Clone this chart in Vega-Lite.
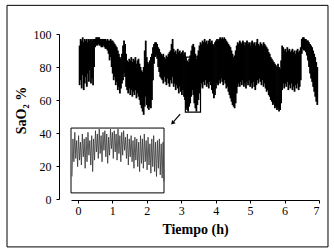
{
"$schema":"https://vega.github.io/schema/vega-lite/v6.json",
"width":248,"height":165,
"padding":{"left":6,"top":4,"right":6,"bottom":4},
"background":"#ffffff",
"config":{"view":{"stroke":null},"axis":{"labelFont":"Liberation Serif","labelFontSize":12,"labelColor":"#000","labelOverlap":false,"titleFont":"Liberation Serif","titleFontSize":14,"titleFontWeight":"bold","titleColor":"#000","domainColor":"#000","tickColor":"#000","grid":false}},
"datasets":{
"band":[
{"t":0.05,"lo":69,"hi":93},{"t":0.08,"lo":72,"hi":97},{"t":0.11,"lo":67,"hi":96},{"t":0.14,"lo":75,"hi":98},{"t":0.17,"lo":66,"hi":95},{"t":0.20,"lo":70,"hi":97},{"t":0.23,"lo":74,"hi":96},{"t":0.26,"lo":68,"hi":97},{"t":0.29,"lo":76,"hi":95},{"t":0.32,"lo":71,"hi":97},{"t":0.35,"lo":78,"hi":96},{"t":0.38,"lo":70,"hi":97},{"t":0.41,"lo":73,"hi":96},{"t":0.44,"lo":69,"hi":97},{"t":0.47,"lo":80,"hi":97},
{"t":0.50,"lo":92,"hi":97},{"t":0.53,"lo":93,"hi":98},{"t":0.56,"lo":93,"hi":98},{"t":0.59,"lo":94,"hi":98},{"t":0.62,"lo":93,"hi":98},{"t":0.65,"lo":93,"hi":97},{"t":0.68,"lo":92,"hi":97},{"t":0.71,"lo":92,"hi":97},{"t":0.74,"lo":93,"hi":97},{"t":0.77,"lo":92,"hi":97},{"t":0.80,"lo":91,"hi":97},{"t":0.83,"lo":91,"hi":96},{"t":0.86,"lo":90,"hi":97},{"t":0.89,"lo":88,"hi":96},{"t":0.92,"lo":84,"hi":96},{"t":0.95,"lo":86,"hi":97},{"t":0.98,"lo":80,"hi":96},
{"t":1.01,"lo":76,"hi":96},{"t":1.04,"lo":72,"hi":95},{"t":1.07,"lo":74,"hi":94},{"t":1.10,"lo":69,"hi":93},{"t":1.13,"lo":71,"hi":92},{"t":1.16,"lo":66,"hi":90},{"t":1.19,"lo":68,"hi":88},{"t":1.22,"lo":64,"hi":86},{"t":1.25,"lo":67,"hi":85},{"t":1.28,"lo":70,"hi":88},{"t":1.31,"lo":72,"hi":93},{"t":1.34,"lo":76,"hi":96},{"t":1.37,"lo":74,"hi":94},{"t":1.40,"lo":68,"hi":88},{"t":1.43,"lo":66,"hi":84},{"t":1.46,"lo":64,"hi":83},{"t":1.49,"lo":67,"hi":85},{"t":1.52,"lo":63,"hi":84},{"t":1.55,"lo":66,"hi":86},{"t":1.58,"lo":62,"hi":83},{"t":1.61,"lo":65,"hi":85},{"t":1.64,"lo":63,"hi":84},{"t":1.67,"lo":66,"hi":86},{"t":1.70,"lo":61,"hi":82},{"t":1.73,"lo":64,"hi":84},{"t":1.76,"lo":62,"hi":85},{"t":1.79,"lo":60,"hi":82},{"t":1.82,"lo":57,"hi":80},{"t":1.85,"lo":55,"hi":78},{"t":1.88,"lo":53,"hi":77},{"t":1.91,"lo":51,"hi":80},{"t":1.94,"lo":56,"hi":90},{"t":1.97,"lo":62,"hi":96},
{"t":2.00,"lo":57,"hi":86},{"t":2.03,"lo":55,"hi":83},{"t":2.06,"lo":54,"hi":82},{"t":2.09,"lo":56,"hi":84},{"t":2.12,"lo":55,"hi":86},{"t":2.15,"lo":60,"hi":88},{"t":2.18,"lo":72,"hi":92},{"t":2.21,"lo":82,"hi":94},{"t":2.24,"lo":86,"hi":95},{"t":2.27,"lo":87,"hi":95},{"t":2.30,"lo":85,"hi":94},{"t":2.33,"lo":80,"hi":92},{"t":2.36,"lo":77,"hi":91},{"t":2.39,"lo":74,"hi":89},{"t":2.42,"lo":73,"hi":88},{"t":2.45,"lo":72,"hi":87},{"t":2.48,"lo":70,"hi":88},{"t":2.51,"lo":74,"hi":86},{"t":2.54,"lo":71,"hi":85},{"t":2.57,"lo":69,"hi":87},{"t":2.60,"lo":73,"hi":86},{"t":2.63,"lo":70,"hi":88},{"t":2.66,"lo":68,"hi":89},{"t":2.69,"lo":72,"hi":90},{"t":2.72,"lo":70,"hi":94},{"t":2.75,"lo":74,"hi":97},{"t":2.78,"lo":68,"hi":91},{"t":2.81,"lo":70,"hi":89},{"t":2.84,"lo":66,"hi":90},{"t":2.87,"lo":69,"hi":88},{"t":2.90,"lo":67,"hi":91},{"t":2.93,"lo":64,"hi":89},{"t":2.96,"lo":68,"hi":90},{"t":2.99,"lo":65,"hi":88},
{"t":3.02,"lo":63,"hi":89},{"t":3.05,"lo":66,"hi":90},{"t":3.08,"lo":62,"hi":88},{"t":3.11,"lo":60,"hi":89},{"t":3.14,"lo":55,"hi":86},{"t":3.17,"lo":54,"hi":84},{"t":3.20,"lo":53,"hi":83},{"t":3.23,"lo":56,"hi":85},{"t":3.26,"lo":58,"hi":87},{"t":3.29,"lo":62,"hi":90},{"t":3.32,"lo":66,"hi":93},{"t":3.35,"lo":63,"hi":94},{"t":3.38,"lo":58,"hi":92},{"t":3.41,"lo":55,"hi":88},{"t":3.44,"lo":53,"hi":85},{"t":3.47,"lo":57,"hi":87},{"t":3.50,"lo":60,"hi":90},{"t":3.53,"lo":64,"hi":93},{"t":3.56,"lo":68,"hi":95},{"t":3.59,"lo":70,"hi":94},{"t":3.62,"lo":67,"hi":96},{"t":3.65,"lo":71,"hi":95},{"t":3.68,"lo":69,"hi":97},{"t":3.71,"lo":72,"hi":95},{"t":3.74,"lo":68,"hi":96},{"t":3.77,"lo":70,"hi":94},{"t":3.80,"lo":67,"hi":96},{"t":3.83,"lo":71,"hi":97},{"t":3.86,"lo":69,"hi":95},{"t":3.89,"lo":66,"hi":96},{"t":3.92,"lo":64,"hi":94},{"t":3.95,"lo":61,"hi":93},{"t":3.98,"lo":63,"hi":95},
{"t":4.01,"lo":67,"hi":96},{"t":4.04,"lo":70,"hi":97},{"t":4.07,"lo":69,"hi":96},{"t":4.10,"lo":72,"hi":97},{"t":4.13,"lo":70,"hi":98},{"t":4.16,"lo":73,"hi":97},{"t":4.19,"lo":71,"hi":98},{"t":4.22,"lo":69,"hi":97},{"t":4.25,"lo":72,"hi":98},{"t":4.28,"lo":70,"hi":97},{"t":4.31,"lo":67,"hi":96},{"t":4.34,"lo":68,"hi":95},{"t":4.37,"lo":65,"hi":94},{"t":4.40,"lo":63,"hi":93},{"t":4.43,"lo":61,"hi":92},{"t":4.46,"lo":59,"hi":90},{"t":4.49,"lo":57,"hi":88},{"t":4.52,"lo":56,"hi":86},{"t":4.55,"lo":55,"hi":87},{"t":4.58,"lo":58,"hi":90},{"t":4.61,"lo":64,"hi":93},{"t":4.64,"lo":68,"hi":95},{"t":4.67,"lo":70,"hi":94},{"t":4.70,"lo":68,"hi":96},{"t":4.73,"lo":71,"hi":95},{"t":4.76,"lo":69,"hi":94},{"t":4.79,"lo":72,"hi":96},{"t":4.82,"lo":68,"hi":95},{"t":4.85,"lo":70,"hi":93},{"t":4.88,"lo":67,"hi":95},{"t":4.91,"lo":71,"hi":96},{"t":4.94,"lo":69,"hi":94},{"t":4.97,"lo":72,"hi":95},
{"t":5.00,"lo":68,"hi":93},{"t":5.03,"lo":70,"hi":95},{"t":5.06,"lo":67,"hi":96},{"t":5.09,"lo":71,"hi":94},{"t":5.12,"lo":68,"hi":95},{"t":5.15,"lo":66,"hi":93},{"t":5.18,"lo":69,"hi":95},{"t":5.21,"lo":72,"hi":97},{"t":5.24,"lo":70,"hi":94},{"t":5.27,"lo":73,"hi":93},{"t":5.30,"lo":71,"hi":95},{"t":5.33,"lo":69,"hi":94},{"t":5.36,"lo":72,"hi":93},{"t":5.39,"lo":68,"hi":95},{"t":5.42,"lo":70,"hi":94},{"t":5.45,"lo":67,"hi":93},{"t":5.48,"lo":65,"hi":92},{"t":5.51,"lo":66,"hi":91},{"t":5.54,"lo":63,"hi":89},{"t":5.57,"lo":62,"hi":88},{"t":5.60,"lo":60,"hi":86},{"t":5.63,"lo":59,"hi":85},{"t":5.66,"lo":57,"hi":84},{"t":5.69,"lo":58,"hi":83},{"t":5.72,"lo":55,"hi":82},{"t":5.75,"lo":56,"hi":81},{"t":5.78,"lo":54,"hi":80},{"t":5.81,"lo":55,"hi":82},{"t":5.84,"lo":53,"hi":80},{"t":5.87,"lo":54,"hi":79},{"t":5.90,"lo":58,"hi":84},{"t":5.93,"lo":66,"hi":93},{"t":5.96,"lo":70,"hi":92},{"t":5.99,"lo":67,"hi":90},
{"t":6.02,"lo":70,"hi":91},{"t":6.05,"lo":68,"hi":89},{"t":6.08,"lo":71,"hi":92},{"t":6.11,"lo":66,"hi":90},{"t":6.14,"lo":69,"hi":91},{"t":6.17,"lo":67,"hi":89},{"t":6.20,"lo":70,"hi":90},{"t":6.23,"lo":66,"hi":91},{"t":6.26,"lo":68,"hi":89},{"t":6.29,"lo":65,"hi":90},{"t":6.32,"lo":69,"hi":88},{"t":6.35,"lo":67,"hi":90},{"t":6.38,"lo":70,"hi":91},{"t":6.41,"lo":66,"hi":89},{"t":6.44,"lo":68,"hi":90},{"t":6.47,"lo":72,"hi":92},{"t":6.50,"lo":88,"hi":97},{"t":6.53,"lo":91,"hi":98},{"t":6.56,"lo":90,"hi":98},{"t":6.59,"lo":90,"hi":97},{"t":6.62,"lo":89,"hi":97},{"t":6.65,"lo":87,"hi":96},{"t":6.68,"lo":84,"hi":96},{"t":6.71,"lo":80,"hi":95},{"t":6.74,"lo":76,"hi":94},{"t":6.77,"lo":73,"hi":93},{"t":6.80,"lo":71,"hi":92},{"t":6.83,"lo":68,"hi":90},{"t":6.86,"lo":65,"hi":88},{"t":6.89,"lo":62,"hi":86},{"t":6.92,"lo":59,"hi":83},{"t":6.95,"lo":57,"hi":80}
],
"inset":[
{"t":3.1200,"v":57},{"t":3.1245,"v":80},{"t":3.1290,"v":66},{"t":3.1335,"v":84},{"t":3.1380,"v":68},{"t":3.1425,"v":79},{"t":3.1470,"v":63},{"t":3.1515,"v":82},{"t":3.1560,"v":67},{"t":3.1605,"v":78},
{"t":3.1650,"v":64},{"t":3.1695,"v":83},{"t":3.1740,"v":69},{"t":3.1785,"v":80},{"t":3.1830,"v":62},{"t":3.1875,"v":81},{"t":3.1920,"v":66},{"t":3.1965,"v":84},{"t":3.2010,"v":70},{"t":3.2055,"v":79},
{"t":3.2100,"v":64},{"t":3.2145,"v":82},{"t":3.2190,"v":60},{"t":3.2235,"v":80},{"t":3.2280,"v":67},{"t":3.2325,"v":85},{"t":3.2370,"v":72},{"t":3.2415,"v":83},{"t":3.2460,"v":68},{"t":3.2505,"v":86},
{"t":3.2550,"v":71},{"t":3.2595,"v":82},{"t":3.2640,"v":66},{"t":3.2685,"v":84},{"t":3.2730,"v":73},{"t":3.2775,"v":85},{"t":3.2820,"v":69},{"t":3.2865,"v":83},{"t":3.2910,"v":65},{"t":3.2955,"v":81},
{"t":3.3000,"v":70},{"t":3.3045,"v":86},{"t":3.3090,"v":74},{"t":3.3135,"v":84},{"t":3.3180,"v":68},{"t":3.3225,"v":85},{"t":3.3270,"v":72},{"t":3.3315,"v":83},{"t":3.3360,"v":67},{"t":3.3405,"v":86},
{"t":3.3450,"v":71},{"t":3.3495,"v":82},{"t":3.3540,"v":66},{"t":3.3585,"v":84},{"t":3.3630,"v":70},{"t":3.3675,"v":85},{"t":3.3720,"v":73},{"t":3.3765,"v":81},{"t":3.3810,"v":68},{"t":3.3855,"v":83},
{"t":3.3900,"v":64},{"t":3.3945,"v":80},{"t":3.3990,"v":69},{"t":3.4035,"v":82},{"t":3.4080,"v":66},{"t":3.4125,"v":79},{"t":3.4170,"v":62},{"t":3.4215,"v":81},{"t":3.4260,"v":67},{"t":3.4305,"v":80},
{"t":3.4350,"v":63},{"t":3.4395,"v":78},{"t":3.4440,"v":60},{"t":3.4485,"v":82},{"t":3.4530,"v":65},{"t":3.4575,"v":80},{"t":3.4620,"v":62},{"t":3.4665,"v":83},{"t":3.4710,"v":66},{"t":3.4755,"v":79},
{"t":3.4800,"v":61},{"t":3.4845,"v":81},{"t":3.4890,"v":64},{"t":3.4935,"v":77},{"t":3.4980,"v":59},{"t":3.5025,"v":80},{"t":3.5070,"v":63},{"t":3.5115,"v":82},{"t":3.5160,"v":60},{"t":3.5205,"v":78},
{"t":3.5250,"v":57},{"t":3.5295,"v":79},{"t":3.5340,"v":62},{"t":3.5385,"v":80},{"t":3.5430,"v":58},{"t":3.5475,"v":77},{"t":3.5520,"v":56},{"t":3.5565,"v":78},{"t":3.5610,"v":54}
]
},
"layer":[
{"layer":[
{"data":{"name":"band"},"mark":{"type":"rule","strokeWidth":1.8,"color":"#000"},
 "encoding":{
  "x":{"field":"t","type":"quantitative","title":"Tiempo (h)","scale":{"domain":[-0.2,7],"nice":false,"zero":false},"axis":{"values":[0,1,2,3,4,5,6,7],"tickCount":8,"labelOverlap":false,"tickSize":3,"labelPadding":2,"titlePadding":6,"offset":1}},
  "y":{"field":"lo","type":"quantitative","title":"SaO₂ %","scale":{"domain":[0,100],"nice":false},"axis":{"values":[0,20,40,60,80,100],"tickCount":6,"labelOverlap":false,"tickSize":3,"labelPadding":5,"titlePadding":5,"titleY":76,"offset":12}},
  "y2":{"field":"hi"}}},
{"data":{"values":[{"x1":3.12,"x2":3.56,"y1":52.7,"y2":86}]},"mark":{"type":"rect","fillOpacity":0,"stroke":"#000","strokeWidth":1.2},
 "encoding":{"x":{"field":"x1","type":"quantitative"},"x2":{"field":"x2"},"y":{"field":"y1","type":"quantitative"},"y2":{"field":"y2"}}},
{"data":{"values":[{"x1":-0.2,"x2":2.5,"y1":3.7,"y2":43}]},"mark":{"type":"rect","fillOpacity":0,"stroke":"#000","strokeWidth":1},
 "encoding":{"x":{"field":"x1","type":"quantitative"},"x2":{"field":"x2"},"y":{"field":"y1","type":"quantitative"},"y2":{"field":"y2"}}},
{"data":{"values":[{"x1":-2.058,"x2":7.261,"y1":-29.04,"y2":117.36}]},"mark":{"type":"rect","fillOpacity":0,"stroke":"#000","strokeWidth":1},
 "encoding":{"x":{"field":"x1","type":"quantitative"},"x2":{"field":"x2"},"y":{"field":"y1","type":"quantitative"},"y2":{"field":"y2"}}},
{"data":{"values":[{"x1":2.97,"y1":51.4,"x2":2.78,"y2":46.9}]},"mark":{"type":"rule","strokeWidth":1.2,"color":"#000"},
 "encoding":{"x":{"field":"x1","type":"quantitative"},"x2":{"field":"x2"},"y":{"field":"y1","type":"quantitative"},"y2":{"field":"y2"}}},
{"data":{"values":[{"x":2.76,"y":46.3}]},"mark":{"type":"point","shape":"triangle","filled":true,"color":"#000","size":22,"angle":222,"opacity":1},
 "encoding":{"x":{"field":"x","type":"quantitative"},"y":{"field":"y","type":"quantitative"}}}
]},
{"data":{"name":"inset"},"mark":{"type":"line","strokeWidth":0.8,"color":"#333"},
 "encoding":{
  "x":{"field":"t","type":"quantitative","scale":{"domain":[3.1152,4.3039],"nice":false,"zero":false},"axis":null},
  "y":{"field":"v","type":"quantitative","scale":{"domain":[43.2,144.2],"nice":false,"zero":false},"axis":null}}}
],
"resolve":{"scale":{"x":"independent","y":"independent"}}
}
